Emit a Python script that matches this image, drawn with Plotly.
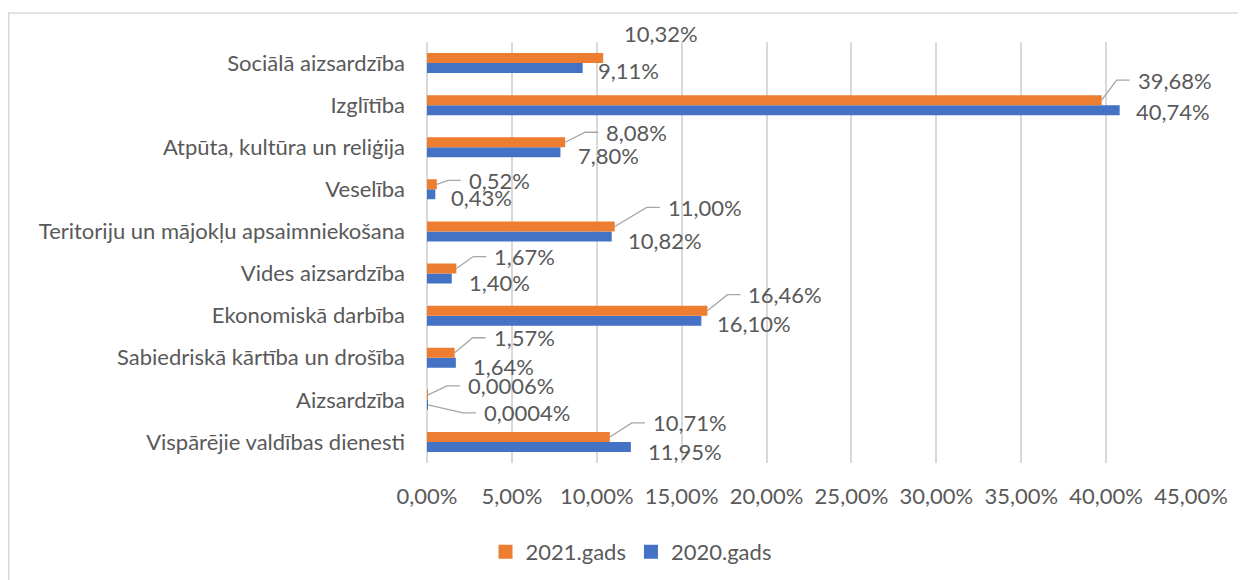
import plotly.graph_objects as go

# ---- data (bottom -> top) ----
categories = [
    "Vispārējie valdības dienesti",
    "Aizsardzība",
    "Sabiedriskā kārtība un drošība",
    "Ekonomiskā darbība",
    "Vides aizsardzība",
    "Teritoriju un mājokļu apsaimniekošana",
    "Veselība",
    "Atpūta, kultūra un reliģija",
    "Izglītība",
    "Sociālā aizsardzība",
]
values_2021 = [10.71, 0.0006, 1.57, 16.46, 1.67, 11.00, 0.52, 8.08, 39.68, 10.32]
values_2020 = [11.95, 0.0004, 1.64, 16.10, 1.40, 10.82, 0.43, 7.80, 40.74, 9.11]
series_names = ["2021.gads", "2020.gads"]
x_ticks = [0, 5, 10, 15, 20, 25, 30, 35, 40, 45]

# ---- style ----
ORANGE = "#ED7D31"
BLUE = "#4472C4"
TEXT = "#595959"
GRID = "#D9D9D9"
FONT = "Lato"
FS = 22

# label offsets in screen pixels (text left edge from bar end, text middle from bar centre)
o_dx = [43, 40, 39, 41, 38, 53, 32, 41, 36, 21]
o_dy = [-14, -9, -15, -16, -12, -19, -4, -10, -20, -25]
o_leader = [True, True, True, True, True, True, True, True, True, False]
b_dx = [17, 56, 17, 16, 17, 16, 16, 18, 16, 15]
b_dy = [5, 8, 4, 3, 4, 4, 3, 3, 1, 2]
b_leader = [False, True, False, False, False, False, False, False, False, False]

BARGAP = 0.525
GROUPGAP = 0.2
half = (1 - BARGAP) / 4  # centre offset of each bar within a group


def fmt(v, d=None):
    if d is None:
        d = 2 if v >= 0.01 else 4
    return f"{v:.{d}f}".replace(".", ",") + "%"


ypos = list(range(len(categories)))

fig = go.Figure()
fig.add_trace(go.Bar(y=ypos, x=values_2020, orientation="h", name=series_names[1],
                     marker=dict(color=BLUE, line=dict(width=2, color=BLUE))))
fig.add_trace(go.Bar(y=ypos, x=values_2021, orientation="h", name=series_names[0],
                     marker=dict(color=ORANGE, line=dict(width=2, color=ORANGE))))

annotations = []
shapes = []


def add_label(v, yc, dx, dy, leader):
    annotations.append(dict(x=v, y=yc, xref="x", yref="y", text=fmt(v), showarrow=False,
                            xanchor="left", yanchor="middle", xshift=dx, yshift=-dy,
                            borderpad=0,
                            font=dict(family=FONT, size=FS, color=TEXT)))
    if leader:
        kx, ex = dx - 20, dx - 7
        shapes.append(dict(type="path", xref="x", yref="y", xsizemode="pixel", ysizemode="pixel",
                           xanchor=v, yanchor=yc,
                           path=f"M1,0 L{kx},{-dy} L{ex},{-dy}",
                           line=dict(color="#A6A6A6", width=1.3), layer="above"))


for i in ypos:
    add_label(values_2021[i], i + half, o_dx[i], o_dy[i], o_leader[i])
    add_label(values_2020[i], i - half, b_dx[i], b_dy[i], b_leader[i])

# page body has an 8px margin, so the figure is sized to fit the window
OFF = 8
W, H = 1246 - OFF, 580 - OFF
ML, MR, MT, MB = 419, 55, 34, 117
PW, PH = W - ML - MR, H - MT - MB
# outer chart border (pixel-derived paper coordinates)
shapes.append(dict(type="rect", xref="paper", yref="paper",
                   x0=(0.75 - ML) / PW, x1=(W + 20 - ML) / PW,
                   y0=1 - (H + 20 - MT) / PH, y1=1 - (5 - MT) / PH,
                   line=dict(color=GRID, width=1.5), fillcolor="rgba(0,0,0,0)", layer="below"))

fig.update_layout(
    width=W, height=H,
    margin=dict(l=ML, r=MR, t=MT, b=MB, autoexpand=False),
    paper_bgcolor="white", plot_bgcolor="white",
    barmode="group", bargap=BARGAP, bargroupgap=GROUPGAP,
    separators=", ",
    font=dict(family=FONT, size=FS, color=TEXT),
    showlegend=True,
    legend=dict(orientation="h", traceorder="reversed",
                x=(623 - ML) / PW, xanchor="center",
                y=1 - (544 - MT) / PH, yanchor="middle",
                font=dict(family=FONT, size=FS, color=TEXT),
                itemwidth=30, bgcolor="rgba(0,0,0,0)"),
    xaxis=dict(range=[0, 45], tickvals=x_ticks, ticktext=[fmt(t, 2) for t in x_ticks],
               showgrid=True, gridcolor=GRID, gridwidth=1.5,
               zeroline=True, zerolinecolor=GRID, zerolinewidth=1.5,
               showline=False, ticks="", ticklabelstandoff=18, automargin=False,
               fixedrange=True),
    yaxis=dict(range=[-0.5, len(categories) - 0.5], tickvals=ypos, ticktext=categories,
               showgrid=False, zeroline=False, showline=False, ticks="",
               ticklabelstandoff=21, automargin=False, fixedrange=True),
    annotations=annotations,
    shapes=shapes,
)

fig.write_html("out.html")
